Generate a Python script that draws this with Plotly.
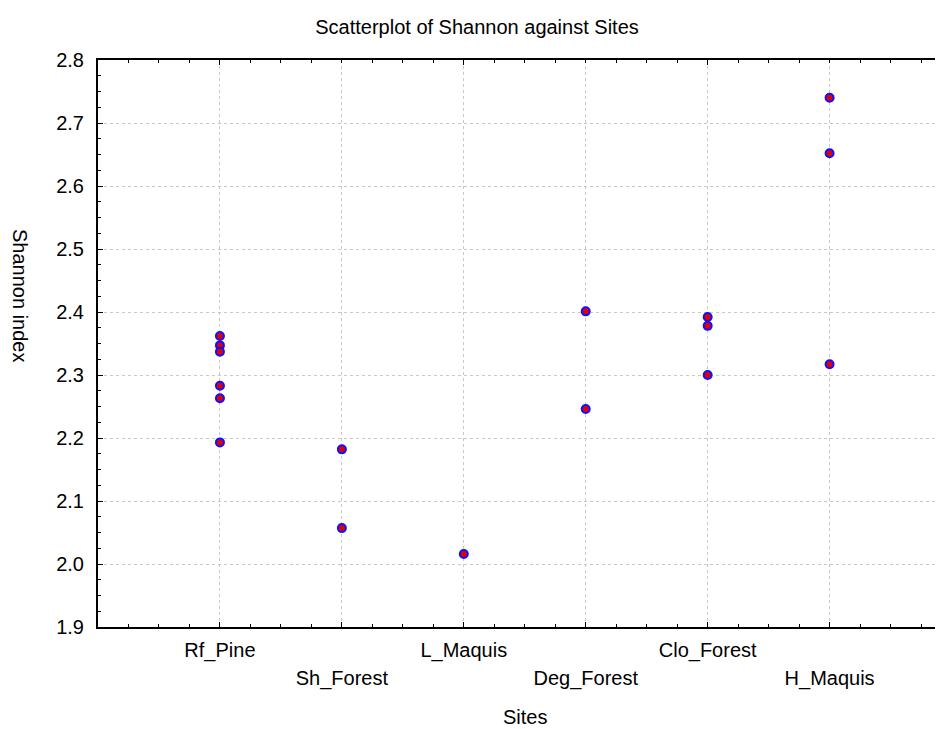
import plotly.graph_objects as go

sites = ["Rf_Pine", "Sh_Forest", "L_Maquis", "Deg_Forest", "Clo_Forest", "H_Maquis"]
rf_pine = [2.362, 2.347, 2.337, 2.283, 2.263, 2.193]
sh_forest = [2.182, 2.057]
l_maquis = [2.016]
deg_forest = [2.401, 2.246]
clo_forest = [2.392, 2.378, 2.300]
h_maquis = [2.740, 2.652, 2.317]
y_ticks = [1.9, 2.0, 2.1, 2.2, 2.3, 2.4, 2.5, 2.6, 2.7, 2.8]

groups = [rf_pine, sh_forest, l_maquis, deg_forest, clo_forest, h_maquis]
xs, ys = [], []
for i, g in enumerate(groups):
    xs += [i] * len(g)
    ys += g

FONT = "Liberation Sans, Arial, sans-serif"
FS = 20

fig = go.Figure()
fig.add_trace(go.Scatter(
    x=xs, y=ys, mode="markers",
    marker=dict(size=8, color="#e00000", line=dict(color="#1010ff", width=2)),
    showlegend=False, hoverinfo="y",
))
# invisible trace to activate second x axis (odd labels row)
fig.add_trace(go.Scatter(x=[0], y=[2.0], xaxis="x2", mode="markers",
                         marker=dict(opacity=0), showlegend=False, hoverinfo="skip"))

even_idx = [i for i in range(len(sites)) if i % 2 == 0]
odd_idx = [i for i in range(len(sites)) if i % 2 == 1]

common_x = dict(range=[-1, 5.93], showline=True, linecolor="black", linewidth=2,
                ticks="inside", ticklen=5, tickcolor="black", tickwidth=1,
                zeroline=False, tickfont=dict(family=FONT, size=FS, color="black"))

fig.update_layout(
    width=935, height=721,
    margin=dict(l=90, r=0, t=52, b=102),
    paper_bgcolor="white", plot_bgcolor="white",
    title=dict(text="Scatterplot of Shannon against Sites", x=0.5016, xref="container",
               xanchor="center", y=0.974, yref="container", yanchor="middle",
               font=dict(family=FONT, size=FS, color="black")),
    xaxis=dict(**common_x, tickmode="array", tickvals=even_idx,
               ticktext=[sites[i] for i in even_idx],
               showgrid=True, gridcolor="#c8c8c8", griddash="dot", gridwidth=1,
               mirror="ticks", ticklabelstandoff=4,
               minor=dict(ticks="inside", ticklen=3, tickcolor="black", dtick=0.25,
                          tick0=0, showgrid=False)),
    xaxis2=dict(**common_x, overlaying="x", side="bottom", matches="x",
                tickmode="array", tickvals=odd_idx,
                ticktext=[sites[i] for i in odd_idx],
                showgrid=True, gridcolor="#c8c8c8", griddash="dot", gridwidth=1,
                ticklabelstandoff=32),
    yaxis=dict(range=[1.9, 2.8], tickmode="array", tickvals=y_ticks,
               ticktext=[f"{v:.1f}" for v in y_ticks],
               showline=True, linecolor="black", linewidth=2, mirror=False,
               ticks="inside", ticklen=5, tickcolor="black",
               showgrid=True, gridcolor="#c8c8c8", griddash="dot", gridwidth=1,
               zeroline=False, ticklabelstandoff=8,
               tickfont=dict(family=FONT, size=FS, color="black"),
               minor=dict(ticks="inside", ticklen=3, tickcolor="black", dtick=0.025,
                          tick0=1.9, showgrid=False)),
    annotations=[
        dict(text="Sites", xref="paper", yref="paper", x=0.505, y=0, yshift=-90,
             showarrow=False, font=dict(family=FONT, size=FS, color="black"),
             xanchor="center", yanchor="middle"),
        dict(text="Shannon index", xref="paper", yref="paper", x=0, xshift=-78,
             y=0.5855, textangle=90, showarrow=False,
             font=dict(family=FONT, size=FS, color="black"),
             xanchor="center", yanchor="middle"),
    ],
)

fig.write_html("out.html")
